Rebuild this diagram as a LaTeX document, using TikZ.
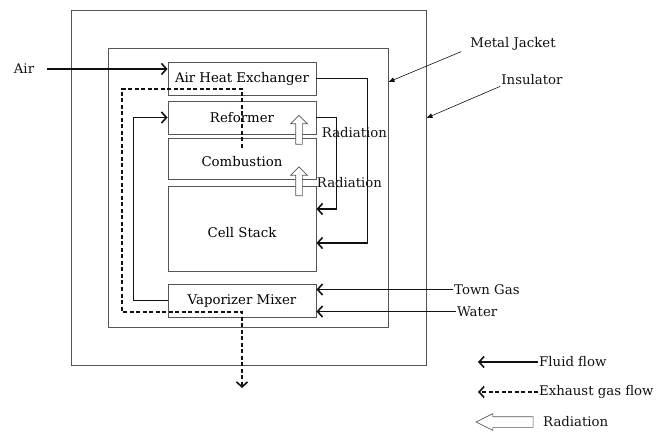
\documentclass[tikz,border=0pt]{standalone}
\usepackage{fontspec}
\setmainfont{DejaVu Serif}
\usetikzlibrary{arrows.meta,positioning,shapes.arrows}
\definecolor{sofcFrame}{HTML}{555555}
\definecolor{sofcInk}{HTML}{111111}
\tikzset{
    >=Latex,
    unit/.style={draw=sofcFrame, line width=0.9pt, minimum width=148pt, align=center, inner sep=0pt, font=\fontsize{13.3}{15}\selectfont},
    shell/.style={draw=sofcFrame, line width=0.9pt, inner sep=0pt},
    note/.style={font=\fontsize{13.3}{15}\selectfont, inner sep=1pt, text=sofcInk},
    fluid/.style={-{Straight Barb[length=5pt,width=11pt]}, line width=1.6pt, draw=sofcInk},
    exhaust/.style={fluid, dash pattern=on 4pt off 2.5pt},
    heat/.style={single arrow, draw=sofcFrame, fill=white, line width=0.7pt, inner sep=3pt, minimum height=29pt, single arrow head extend=5pt},
    pointer/.style={-{Latex[length=6pt,width=5pt]}, line width=0.6pt, draw=sofcInk}
}
\begin{document}
\begin{tikzpicture}[x=1pt,y=-1pt]
\useasboundingbox (0,0) rectangle (668,435);
% casing
\node[shell, minimum width=355pt, minimum height=355pt] (insul) at (248.5,187.5) {};
\node[shell, minimum width=280pt, minimum height=279pt] (jacket) at (248,187.5) {};
% stack of units
\node[unit, minimum height=33pt] (ahx) at (242,78.5) {Air Heat Exchanger};
\node[unit, minimum height=33pt] (ref) at (242,117.5) {Reformer};
\node[unit, minimum height=41pt, text height=16pt] (comb) at (242,158.5) {Combustion};
\node[unit, minimum height=85pt, text height=18pt] (cell) at (242,228.5) {Cell Stack};
\node[unit, minimum height=33pt] (vap) at (242,300.5) {Vaporizer Mixer};
% labels
\node[note] (air) at (24,69) {Air};
\node[note] (mj) at (513,44) {Metal Jacket};
\node[note] (ins) at (532,80) {Insulator};
\node[note, anchor=west] (tg) at (453,289.5) {Town Gas};
\node[note, anchor=west] (wat) at (456,311.5) {Water};
\node[note] (rad1) at (354.5,133) {Radiation};
\node[note] (rad2) at (349.5,183) {Radiation};
% fluid flow
\draw[fluid] ([xshift=12pt]air.east) -- ([yshift=9.5pt]ahx.west);
\draw[fluid] (ahx.east) -- ++(51,0) |- ([yshift=-14.5pt]cell.east);
\draw[fluid] (ref.east) -- ++(20,0) |- ([yshift=19.5pt]cell.east);
\draw[fluid] (vap.west) -- ++(-34,0) |- (ref.west);
\draw[fluid] (tg.west) -- ([yshift=11pt]vap.east);
\draw[fluid] (wat.west) -- ([yshift=-11pt]vap.east);
% exhaust gas
\coordinate (exhin) at (242,148);
\coordinate (exhout) at (242,388);
\draw[exhaust] (exhin) |- (122,89) -- (122,312) -| (exhout);
% radiation
\node[heat, rotate=90] (heat1) at (299,131.5) {};
\node[heat, rotate=90] (heat2) at (299,183) {};
% pointers
\draw[pointer] ([xshift=-8pt]mj.south west) -- ([yshift=105.5pt]jacket.east);
\draw[pointer] (ins.south west) -- ([yshift=69.5pt]insul.east);
% legend
\node[note, anchor=west] (lgfluid) at (538,362) {Fluid flow};
\node[note, anchor=west] (lgexh) at (538,392) {Exhaust gas flow};
\node[note, anchor=west] (lgrad) at (542,422) {Radiation};
\coordinate (lgfluidtip) at (478,362);
\coordinate (lgexhtip) at (478,392);
\draw[fluid] (lgfluid.west) -- (lgfluidtip);
\draw[exhaust] (lgexh.west) -- (lgexhtip);
\node[heat, rotate=180, inner sep=5pt, minimum height=57pt, single arrow head extend=3pt, single arrow tip angle=53] (lgheat) at (510,422) {};
\end{tikzpicture}
\end{document}
